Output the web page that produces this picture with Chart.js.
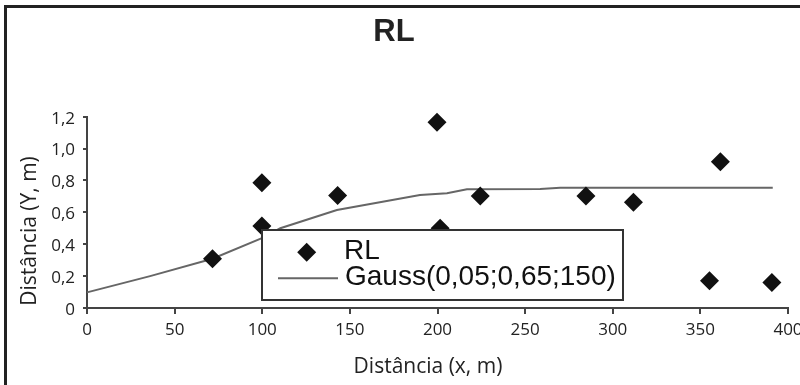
<!DOCTYPE html>
<html>
<head>
<meta charset="utf-8">
<script src="https://cdn.jsdelivr.net/npm/chart.js@4/dist/chart.umd.min.js"></script>
<style>
  html, body { margin: 0; padding: 0; background: #fff; }
  #wrap { position: relative; width: 800px; height: 385px; overflow: hidden; }
  #frame { position: absolute; left: 4px; top: 5px; width: 820px; height: 420px;
           border-left: 3px solid #222; border-top: 3px solid #222; box-sizing: border-box; pointer-events: none; }
  canvas { position: absolute; left: 0; top: 0; }
</style>
</head>
<body>
<div id="wrap">
  <canvas id="c" width="800" height="385"></canvas>
  <div id="frame"></div>
</div>
<script>
// ---- data ----
const chartTitle = 'RL';
const xAxisTitle = 'Distância (x, m)';
const yAxisTitle = 'Distância (Y, m)';

const rlLabel = 'RL';
const rlX = [71.6, 99.8, 99.8, 143, 199.7, 201.5, 224.4, 284.7, 311.8, 361.4, 355.2, 390.8];
const rlY = [0.309, 0.786, 0.515, 0.705, 1.165, 0.50, 0.703, 0.703, 0.664, 0.918, 0.171, 0.160];

const gaussLabel = 'Gauss(0,05;0,65;150)';
const gaussX = [0, 36, 71.6, 99.8, 110.3, 142.6, 190, 205.4, 216.8, 258.6, 270, 391.3];
const gaussY = [0.098, 0.20, 0.309, 0.438, 0.50, 0.615, 0.709, 0.72, 0.745, 0.747, 0.755, 0.755];

const xTickValues = [0, 50, 100, 150, 200, 250, 300, 350, 400];
const xTickLabels = ['0', '50', '100', '150', '200', '250', '300', '350', '400'];
const yTickValues = [0, 0.2, 0.4, 0.6, 0.8, 1.0, 1.2];
const yTickLabels = ['0', '0,2', '0,4', '0,6', '0,8', '1,0', '1,2'];

// ---- build library structures ----
const rlPoints = rlX.map((x, i) => ({ x: x, y: rlY[i] }));
const gaussPoints = gaussX.map((x, i) => ({ x: x, y: gaussY[i] }));

const AXIS = '#444';
const TEXT = '#222';
const MARKER_R = 9.5;

const overlayPlugin = {
  id: 'overlay',
  afterDatasetsDraw(chart) {
    const ctx = chart.ctx;
    ctx.save();
    // legend box
    const bx = 262, by = 230, bw = 361, bh = 70;
    ctx.fillStyle = '#fff';
    ctx.fillRect(bx, by, bw, bh);
    ctx.strokeStyle = '#333';
    ctx.lineWidth = 2;
    ctx.strokeRect(bx, by, bw, bh);
    const ds0 = chart.data.datasets[0];
    const ds1 = chart.data.datasets[1];
    // marker, drawn with the same routine as the chart points
    ctx.fillStyle = ds0.backgroundColor;
    ctx.strokeStyle = ds0.borderColor;
    ctx.lineWidth = 0;
    const mx = 306.7, my = 252.3;
    if (Chart.helpers && Chart.helpers.drawPoint) {
      Chart.helpers.drawPoint(ctx, { pointStyle: ds0.pointStyle, radius: ds0.pointRadius, rotation: 0, borderWidth: 0 }, mx, my);
    } else {
      const r = 7.6;
      ctx.beginPath();
      ctx.moveTo(mx, my - r); ctx.lineTo(mx + r, my); ctx.lineTo(mx, my + r); ctx.lineTo(mx - r, my);
      ctx.closePath(); ctx.fill();
    }
    // line sample
    ctx.strokeStyle = ds1.borderColor;
    ctx.lineWidth = ds1.borderWidth;
    ctx.beginPath(); ctx.moveTo(278, 278.3); ctx.lineTo(338, 278.3); ctx.stroke();
    // texts
    ctx.fillStyle = '#111';
    ctx.font = '28px "Liberation Sans", Arial, sans-serif';
    ctx.textBaseline = 'middle';
    ctx.textAlign = 'left';
    ctx.fillText(ds0.label, 344, 251);
    ctx.fillText(ds1.label, 345, 277);
    ctx.restore();
  },
  afterDraw(chart) {
    const ctx = chart.ctx;
    ctx.save();
    ctx.fillStyle = TEXT;
    ctx.font = '21px "Open Sans", sans-serif';
    ctx.textAlign = 'center';
    ctx.textBaseline = 'middle';
    ctx.fillText(xAxisTitle, 428, 367);
    ctx.translate(30, 231);
    ctx.rotate(-Math.PI / 2);
    ctx.fillText(yAxisTitle, 0, 0);
    ctx.restore();
  }
};

new Chart(document.getElementById('c'), {
  type: 'scatter',
  data: {
    datasets: [
      {
        label: rlLabel,
        data: rlPoints,
        showLine: false,
        pointStyle: 'rectRot',
        pointRadius: MARKER_R,
        pointHoverRadius: MARKER_R,
        backgroundColor: '#111',
        borderColor: '#111',
        borderWidth: 0,
        clip: false,
        order: 1
      },
      {
        label: gaussLabel,
        data: gaussPoints,
        showLine: true,
        pointRadius: 0,
        pointHoverRadius: 0,
        borderColor: '#666',
        backgroundColor: '#666',
        borderWidth: 2,
        tension: 0,
        clip: false,
        order: 2
      }
    ]
  },
  options: {
    responsive: false,
    animation: false,
    events: [],
    layout: { padding: { left: 0, right: 12, top: 0, bottom: 0 } },
    plugins: {
      legend: { display: false },
      tooltip: { enabled: false },
      title: {
        display: true,
        text: chartTitle,
        color: TEXT,
        font: { family: '"Liberation Sans", Arial, sans-serif', size: 31, weight: 'bold', lineHeight: 1.2 },
        padding: { top: 14, bottom: 65.5 }
      }
    },
    scales: {
      x: {
        type: 'linear',
        min: 0, max: 400,
        afterBuildTicks(scale) { scale.ticks = xTickValues.map(v => ({ value: v })); },
        afterFit(scale) { scale.height = 77; scale.paddingLeft = 0; scale.paddingRight = 0; },
        ticks: {
          color: TEXT,
          font: { family: '"Open Sans", sans-serif', size: 17 },
          padding: 6,
          maxRotation: 0,
          autoSkip: false,
          callback: (v) => { const i = xTickValues.indexOf(v); return i >= 0 ? xTickLabels[i] : ''; }
        },
        grid: { display: true, drawOnChartArea: false, drawTicks: true, tickLength: 6, color: AXIS, lineWidth: 2 },
        border: { display: true, color: AXIS, width: 2 }
      },
      y: {
        type: 'linear',
        min: 0, max: 1.2,
        afterBuildTicks(scale) { scale.ticks = yTickValues.map(v => ({ value: v })); },
        afterFit(scale) { scale.width = 87; scale.paddingTop = 0; scale.paddingBottom = 0; },
        ticks: {
          color: TEXT,
          font: { family: '"Open Sans", sans-serif', size: 17 },
          padding: 8,
          autoSkip: false,
          labelOffset: 2,
          callback: (v) => { const i = yTickValues.findIndex(t => Math.abs(t - v) < 1e-9); return i >= 0 ? yTickLabels[i] : ''; }
        },
        grid: { display: true, drawOnChartArea: false, drawTicks: true, tickLength: 4, color: AXIS, lineWidth: 2 },
        border: { display: true, color: AXIS, width: 2 }
      }
    }
  },
  plugins: [overlayPlugin]
});
</script>
</body>
</html>
